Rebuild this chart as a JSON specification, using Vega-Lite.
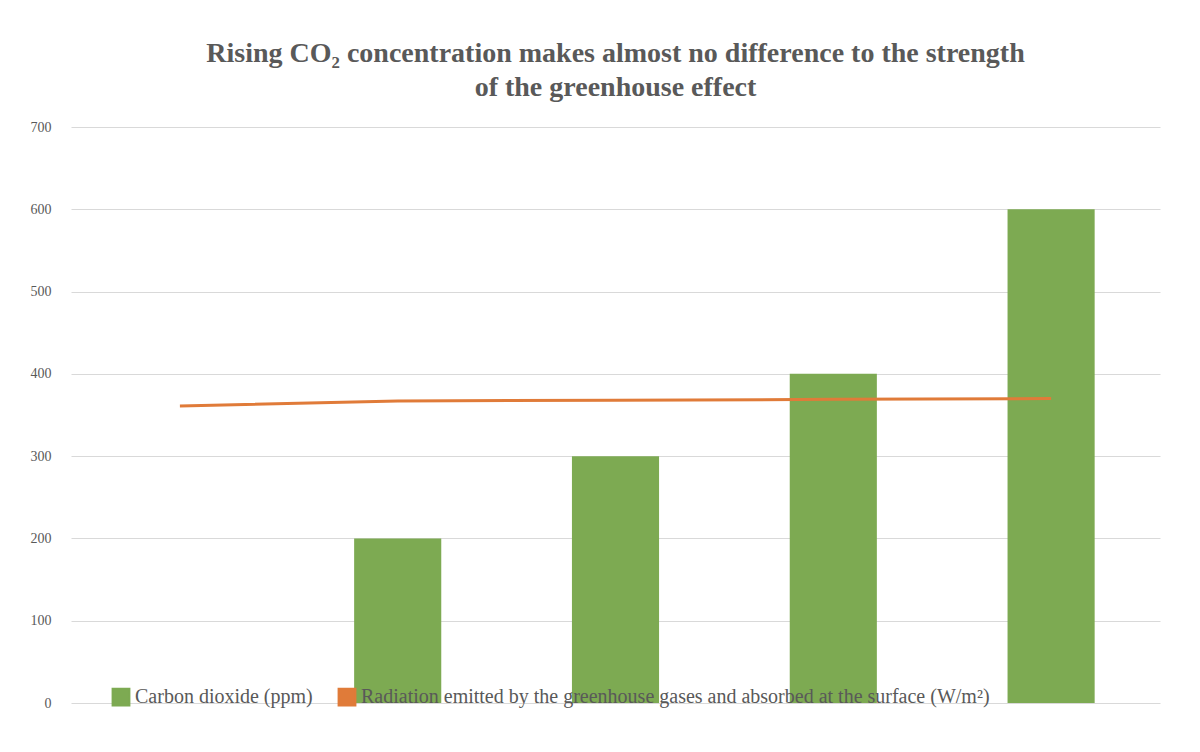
{
  "$schema": "https://vega.github.io/schema/vega-lite/v6.json",
  "width": 1200,
  "height": 752,
  "autosize": {"type": "fit", "contains": "padding"},
  "padding": {"left": 30, "top": 40, "right": 40, "bottom": 42},
  "background": "white",
  "config": {
    "font": "Liberation Serif",
    "view": {"stroke": null}
  },
  "title": {
    "text": ["Rising CO₂ concentration makes almost no difference to the strength", "of the greenhouse effect"],
    "font": "Liberation Serif",
    "fontSize": 28,
    "fontWeight": "bold",
    "color": "#595959",
    "anchor": "middle",
    "offset": 18,
    "lineHeight": 34
  },
  "data": {
    "values": [
      {"cat": "1", "co2": 0, "rad": 361},
      {"cat": "2", "co2": 200, "rad": 367},
      {"cat": "3", "co2": 300, "rad": 368},
      {"cat": "4", "co2": 400, "rad": 369},
      {"cat": "5", "co2": 600, "rad": 370}
    ]
  },
  "encoding": {
    "x": {"field": "cat", "type": "ordinal", "axis": null, "scale": {"paddingInner": 0.6, "paddingOuter": 0.3}}
  },
  "layer": [
    {
      "mark": {"type": "bar"},
      "encoding": {
        "y": {
          "field": "co2", "type": "quantitative",
          "scale": {"domain": [0, 700]},
          "axis": {"title": null, "tickCount": 7, "domain": false, "ticks": false, "labelFont": "Liberation Serif", "labelFontSize": 14, "labelColor": "#595959", "gridColor": "#d9d9d9", "labelPadding": 20}
        },
        "color": {
          "datum": "Carbon dioxide (ppm)",
          "type": "nominal",
          "scale": {
            "domain": ["Carbon dioxide (ppm)", "Radiation emitted by the greenhouse gases and absorbed at the surface (W/m²)"],
            "range": ["#7DAA52", "#E07B39"]
          },
          "legend": {"orient": "none", "direction": "horizontal", "legendX": 40, "legendY": 560, "title": null, "labelFont": "Liberation Serif", "labelFontSize": 20, "labelColor": "#595959", "symbolSize": 300, "labelLimit": 900, "columnPadding": 22}
        }
      }
    },
    {
      "mark": {"type": "line", "strokeWidth": 3},
      "encoding": {
        "y": {"field": "rad", "type": "quantitative"},
        "color": {"datum": "Radiation emitted by the greenhouse gases and absorbed at the surface (W/m²)", "type": "nominal"}
      }
    }
  ]
}
